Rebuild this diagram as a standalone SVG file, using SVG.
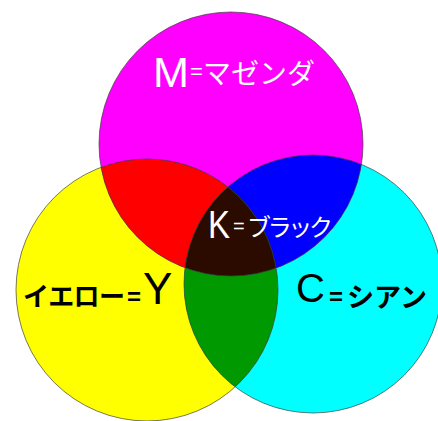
<svg xmlns="http://www.w3.org/2000/svg" width="438" height="421" viewBox="0 0 438 421">
<style>
.lat{font-family:"Liberation Sans",Arial,sans-serif}
.jp{font-family:"Noto Sans CJK JP","Noto Sans",sans-serif}
.w{fill:#ffffff}
.k{fill:#000000}
.edge{fill:none;stroke:#3a3a3a;stroke-width:0.9;stroke-opacity:0.75}
</style>
<defs>
<clipPath id="clipM"><circle cx="231" cy="144" r="132"/></clipPath>
<clipPath id="clipY"><circle cx="147" cy="290" r="131"/></clipPath>
</defs>
<rect width="438" height="421" fill="#ffffff"/>
<g id="yellow">
<circle cx="147" cy="290" r="131" fill="#ffff00"/>
<text class="k"><tspan class="jp" x="23" y="306" font-size="26" font-weight="bold" textLength="102" lengthAdjust="spacing">イエロー</tspan><tspan class="lat" x="127" y="305" font-size="24" font-weight="bold">=</tspan><tspan class="lat" x="143" y="304" font-size="44">Y</tspan></text>
</g>
<g id="cyan">
<circle cx="313" cy="284" r="129" fill="#00ffff"/>
<text class="k"><tspan class="lat" x="296" y="302" font-size="40">C</tspan><tspan class="lat" x="329" y="305" font-size="24" font-weight="bold">=</tspan><tspan class="jp" x="347" y="307" font-size="27" font-weight="bold" textLength="80" lengthAdjust="spacing">シアン</tspan></text>
</g>
<g id="magenta">
<circle cx="231" cy="144" r="132" fill="#ff00ff"/>
<text class="w"><tspan class="lat" x="153" y="87" font-size="42" textLength="36" lengthAdjust="spacingAndGlyphs">M</tspan><tspan class="lat" x="190" y="79" font-size="22">=</tspan><tspan class="jp" x="203" y="84" font-size="28" textLength="112" lengthAdjust="spacing">マゼンダ</tspan></text>
</g>
<g id="overlaps">
<circle cx="147" cy="290" r="131" fill="#ff0000" clip-path="url(#clipM)"/>
<circle cx="313" cy="284" r="129" fill="#0000ff" clip-path="url(#clipM)"/>
<circle cx="313" cy="284" r="129" fill="#009900" clip-path="url(#clipY)"/>
<g clip-path="url(#clipM)"><circle cx="313" cy="284" r="129" fill="#2b0a00" clip-path="url(#clipY)"/></g>
</g>
<g id="outlines">
<circle class="edge" cx="147" cy="290" r="131"/>
<circle class="edge" cx="313" cy="284" r="129"/>
<circle class="edge" cx="231" cy="144" r="132"/>
</g>
<g id="black">
<text class="w"><tspan class="lat" x="208" y="238" font-size="39" textLength="22" lengthAdjust="spacingAndGlyphs">K</tspan><tspan class="lat" x="233" y="233" font-size="20">=</tspan><tspan class="jp" x="247" y="236" font-size="24" textLength="86" lengthAdjust="spacing">ブラック</tspan></text>
</g>
</svg>
